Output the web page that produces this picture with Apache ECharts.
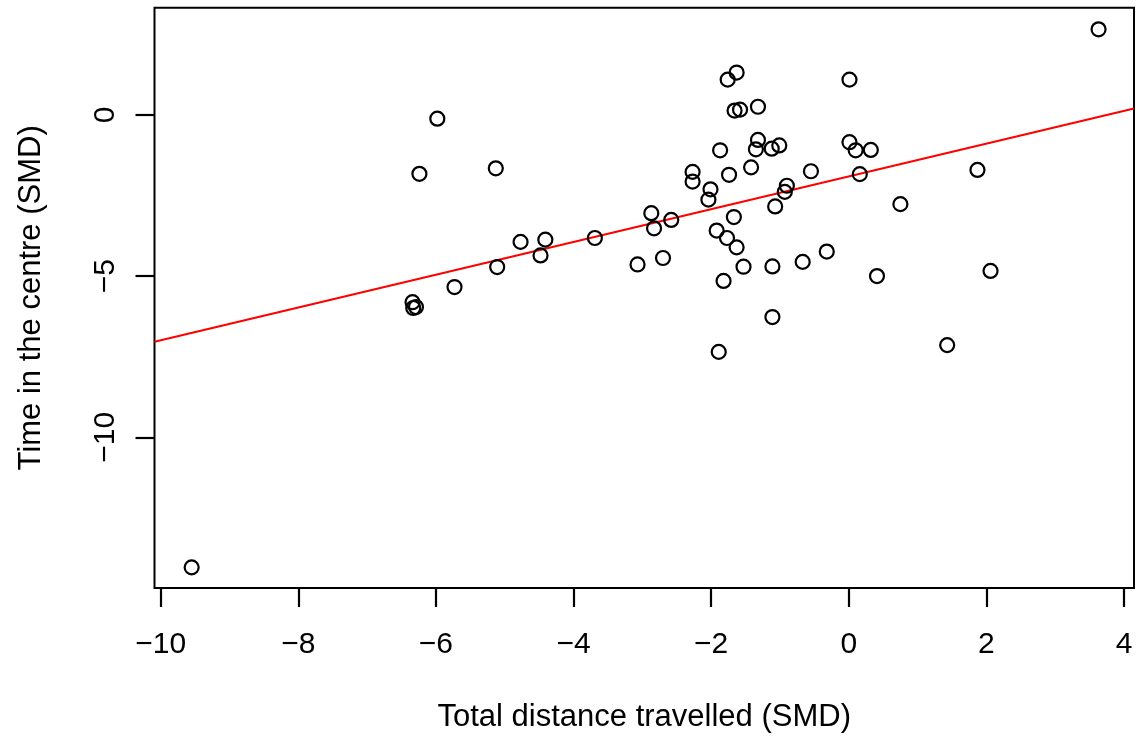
<!DOCTYPE html>
<html>
<head>
<meta charset="utf-8">
<script src="https://cdn.jsdelivr.net/npm/echarts@6/dist/echarts.min.js"></script>
<style>
html,body{margin:0;padding:0;background:#fff;}
#chart{width:1147px;height:738px;}
</style>
</head>
<body>
<div id="chart"></div>
<script>
// Data
const distanceSMD = [-9.55, 3.63, -5.98, -6.24, -5.13, -6.34, -6.33, -6.29, -5.73, -5.11,
  -4.77, -4.41, -4.48, -3.69, -2.87, -2.83, -2.58, -3.07, -2.70, -1.63,
  -1.76, 0.01, -1.66, -1.58, -1.32, -1.32, -1.35, -1.12, -1.01, -1.87,
  0.01, 0.10, 0.32, 0.16, -2.27, -2.27, -1.74, -1.42, -0.55, -2.01,
  -2.04, -0.90, -0.93, -1.07, -1.67, 0.75, -1.92, -1.77, -1.63, -1.53,
  -1.11, -0.67, -0.32, 0.41, -1.82, -1.11, -1.89, 1.87, 2.06, 1.43];
const timeCentreSMD = [-14.03, 2.65, -0.12, -1.83, -1.66, -5.81, -5.99, -5.96, -5.34, -4.72,
  -3.94, -3.87, -4.36, -3.82, -3.05, -3.52, -3.26, -4.64, -4.44, 1.31,
  1.09, 1.09, 0.13, 0.16, 0.25, -0.78, -1.07, -1.05, -0.95, -1.10,
  -0.85, -1.10, -1.09, -1.84, -1.77, -2.07, -1.86, -1.63, -1.75, -2.31,
  -2.63, -2.20, -2.39, -2.84, -3.17, -2.77, -3.59, -3.82, -4.11, -4.71,
  -4.70, -4.56, -4.24, -5.00, -5.15, -6.27, -7.35, -1.71, -4.84, -7.14];
const xTicks = [-10, -8, -6, -4, -2, 0, 2, 4];
const yTicks = [-10, -5, 0];
const fitIntercept = -1.91;
const fitSlope = 0.508;

const xMin = -10.09, xMax = 4.145;
const yMin = -14.67, yMax = 3.32;

const points = distanceSMD.map((x, i) => [x, timeCentreSMD[i]]);
const fitLine = [[xMin, fitIntercept + fitSlope * xMin], [xMax, fitIntercept + fitSlope * xMax]];

const fmt = v => (v < 0 ? '\u2212' + Math.abs(v) : String(v));
const font = 'Liberation Sans, Arial, Helvetica, sans-serif';

const chart = echarts.init(document.getElementById('chart'), null, {renderer: 'canvas'});
chart.setOption({
  backgroundColor: '#ffffff',
  animation: false,
  grid: {
    left: 154.5, right: 13, top: 7.7, bottom: 147.3,
    show: true, borderColor: '#000', borderWidth: 2, backgroundColor: 'transparent',
    containLabel: false
  },
  xAxis: {
    type: 'value', min: xMin, max: xMax,
    name: 'Total distance travelled (SMD)',
    nameLocation: 'middle', nameGap: 114,
    nameTextStyle: {fontSize: 31, color: '#000', fontFamily: font},
    axisLine: {show: false, onZero: false},
    axisTick: {show: true, length: 19, inside: false, customValues: xTicks,
      lineStyle: {color: '#000', width: 2.2}},
    axisLabel: {show: true, customValues: xTicks, formatter: fmt, margin: 42,
      fontSize: 30, color: '#000', fontFamily: font},
    splitLine: {show: false}
  },
  yAxis: {
    type: 'value', min: yMin, max: yMax,
    name: 'Time in the centre (SMD)',
    nameLocation: 'middle', nameGap: 108, nameRotate: 90,
    nameTextStyle: {fontSize: 31, color: '#000', fontFamily: font},
    axisLine: {show: false, onZero: false},
    axisTick: {show: true, length: 19, inside: false, customValues: yTicks,
      lineStyle: {color: '#000', width: 2.2}},
    axisLabel: {show: true, customValues: yTicks, formatter: fmt, margin: 34, rotate: 90,
      fontSize: 30, color: '#000', fontFamily: font},
    splitLine: {show: false}
  },
  series: [
    {
      type: 'scatter', data: points, symbol: 'circle', symbolSize: 14,
      itemStyle: {color: 'rgba(0,0,0,0)', borderColor: '#000', borderWidth: 2.2, opacity: 1},
      silent: true, z: 3
    },
    {
      type: 'line', data: fitLine, symbol: 'none',
      lineStyle: {color: '#ff0000', width: 2}, silent: true, z: 2
    }
  ]
});
</script>
</body>
</html>
